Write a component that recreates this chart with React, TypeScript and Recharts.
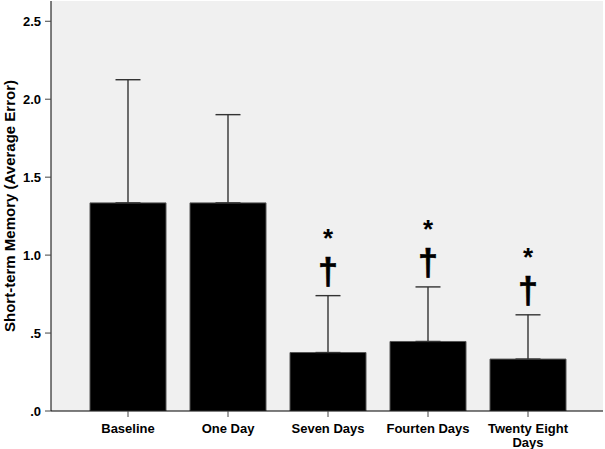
import React from "react";
import {
  ComposedChart,
  Bar,
  ErrorBar,
  Scatter,
  XAxis,
  YAxis,
  CartesianGrid,
} from "recharts";

const categories = ["Baseline", "One Day", "Seven Days", "Fourten Days", "Twenty Eight Days"];
const means = [1.335, 1.335, 0.375, 0.446, 0.333];
const upperErrors = [0.79, 0.566, 0.365, 0.35, 0.284];
const starMarks = ["", "", "*", "*", "*"];
const daggerMarks = ["", "", "\u2020", "\u2020", "\u2020"];
const yTicks = [0, 0.5, 1.0, 1.5, 2.0, 2.5];
const yLabel = "Short-term Memory (Average Error)";

const data = categories.map((name, i) => ({
  name,
  mean: means[i],
  err: [0, upperErrors[i]],
  upper: means[i] + upperErrors[i],
  star: starMarks[i],
  dagger: daggerMarks[i],
}));

const FONT = "Arial, 'Liberation Sans', sans-serif";

const fmtY = (v: number) => {
  const s = v.toFixed(1);
  return s.startsWith("0") ? s.slice(1) : s;
};

const MarkShape = (props: any) => {
  const { cx, cy, payload } = props;
  if (!payload || (!payload.star && !payload.dagger)) return <g />;
  return (
    <g>
      <text
        x={cx}
        y={cy - 12}
        textAnchor="middle"
        fontFamily={FONT}
        fontWeight="bold"
        fontSize={36}
        fill="#000"
        stroke="#000"
        strokeWidth={0.6}
      >
        {payload.dagger}
      </text>
      <text
        x={cx}
        y={cy - 49}
        textAnchor="middle"
        fontFamily={FONT}
        fontWeight="bold"
        fontSize={26}
        fill="#000"
      >
        {payload.star}
      </text>
    </g>
  );
};

const XTick = (props: any) => {
  const { x, y, payload } = props;
  const words = String(payload.value).split(" ");
  const lines: string[] = [];
  let cur = "";
  words.forEach((w) => {
    const next = cur ? cur + " " + w : w;
    if (next.length > 13 && cur) {
      lines.push(cur);
      cur = w;
    } else {
      cur = next;
    }
  });
  if (cur) lines.push(cur);
  return (
    <g>
      {lines.map((l, i) => (
        <text
          key={i}
          x={x}
          y={y + 14 + i * 14}
          textAnchor="middle"
          fontFamily={FONT}
          fontWeight="bold"
          fontSize={13}
          fill="#000"
        >
          {l}
        </text>
      ))}
    </g>
  );
};

const YLabel = (props: any) => {
  const { viewBox } = props;
  const cy = viewBox.y + viewBox.height / 2;
  const cx = viewBox.x + 8;
  return (
    <text
      x={cx}
      y={cy}
      transform={`rotate(-90, ${cx}, ${cy})`}
      textAnchor="middle"
      dominantBaseline="central"
      fontFamily={FONT}
      fontWeight="bold"
      fontSize={15}
      fill="#000"
    >
      {yLabel}
    </text>
  );
};

export default function App() {
  return (
    <div style={{ position: "absolute", left: 0, top: 0, background: "#fff" }}>
      <ComposedChart
        width={605}
        height={449}
        data={data}
        margin={{ top: 1, right: 2, bottom: 0, left: 1 }}
        barCategoryGap={12}
      >
        <CartesianGrid fill="#f0f0f0" horizontal={false} vertical={false} />
        <XAxis
          dataKey="name"
          height={38}
          padding={{ left: 27, right: 25 }}
          axisLine={{ stroke: "#000", strokeWidth: 1 }}
          tickLine={{ stroke: "#444" }}
          tickSize={6}
          tick={<XTick />}
          interval={0}
        />
        <XAxis
          xAxisId="top"
          orientation="top"
          dataKey="name"
          height={0}
          tick={false}
          tickLine={false}
          axisLine={{ stroke: "#000", strokeWidth: 1 }}
        />
        <YAxis
          width={50}
          domain={[0, 2.63]}
          ticks={yTicks}
          tickFormatter={fmtY}
          axisLine={{ stroke: "#000", strokeWidth: 1 }}
          tickLine={{ stroke: "#444" }}
          tickSize={6}
          tick={{ fill: "#000", fontFamily: FONT, fontWeight: "bold", fontSize: 13, dx: -2 }}
          label={<YLabel />}
          allowDataOverflow
        />
        <YAxis
          yAxisId="right"
          orientation="right"
          width={0}
          domain={[0, 2.63]}
          tick={false}
          tickLine={false}
          axisLine={{ stroke: "#333", strokeWidth: 1 }}
        />
        <Bar dataKey="mean" fill="#000" stroke="#555" strokeWidth={1} isAnimationActive={false}>
          <ErrorBar
            dataKey="err"
            direction="y"
            width={12.5}
            stroke="#333"
            strokeWidth={1.4}
            isAnimationActive={false}
          />
        </Bar>
        <Scatter dataKey="upper" shape={<MarkShape />} isAnimationActive={false} />
      </ComposedChart>
    </div>
  );
}
